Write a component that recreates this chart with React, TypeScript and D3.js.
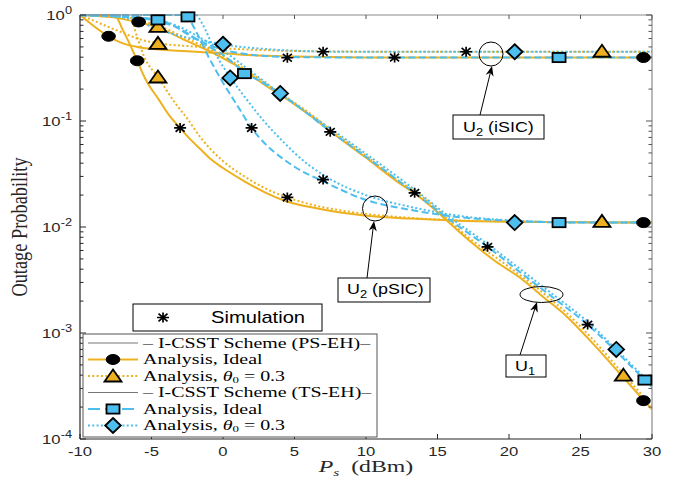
import React from 'react';
import * as d3 from 'd3';

type P = [number, number];

// ---------- data ----------
const xTicks = [-10, -5, 0, 5, 10, 15, 20, 25, 30];
const yDecades = [0, -1, -2, -3, -4];

// U2 (iSIC)
const psIsicIdeal: P[] = [[-10, 1], [-9, 0.78], [-8, 0.63], [-7, 0.54], [-6, 0.5], [-5, 0.48], [-2.5, 0.455], [0, 0.435], [2.5, 0.415], [5, 0.405], [10, 0.398], [20, 0.397], [30, 0.397]];
const psIsicTheta: P[] = [[-10, 1], [-9, 0.88], [-8, 0.77], [-7, 0.68], [-6, 0.6], [-4.5, 0.54], [-2.5, 0.51], [0, 0.485], [2.5, 0.468], [5, 0.457], [10, 0.451], [20, 0.45], [30, 0.45]];
const tsIsicIdeal: P[] = [[-10, 0.995], [-8, 0.975], [-6, 0.945], [-4.5, 0.9], [-3.5, 0.8], [-2.5, 0.66], [-1.5, 0.56], [0, 0.47], [1, 0.44], [2.5, 0.415], [4.5, 0.402], [8, 0.398], [30, 0.397]];
const tsIsicTheta: P[] = [[-10, 0.998], [-8, 0.98], [-6, 0.88], [-4.75, 0.75], [-3.5, 0.66], [-2.45, 0.61], [-1, 0.56], [0, 0.53], [1, 0.505], [2, 0.49], [3.5, 0.472], [5, 0.46], [7, 0.452], [10, 0.45], [30, 0.45]];

// U2 (pSIC)
const psPsicIdeal: P[] = [[-10, 1], [-7.6, 1], [-7, 0.72], [-6.4, 0.49], [-6, 0.37], [-5.4, 0.245], [-4.5, 0.16], [-3.8, 0.115], [-3, 0.086], [-2.5, 0.072], [-1.5, 0.053], [-0.8, 0.043], [0, 0.036], [1.5, 0.027], [3, 0.021], [4.7, 0.017], [6, 0.0155], [8.2, 0.0137], [10, 0.0128], [13.1, 0.012], [16, 0.0115], [20, 0.0112], [30, 0.011]];
const psPsicTheta: P[] = [[-10, 1], [-6.6, 1], [-6, 0.62], [-5.5, 0.4], [-4.55, 0.26], [-4, 0.2], [-3.3, 0.145], [-2.6, 0.11], [-1.5, 0.068], [-0.1, 0.043], [1.5, 0.03], [3, 0.023], [4.5, 0.019], [6, 0.0165], [8, 0.0145], [10, 0.0133], [13.1, 0.0122], [16, 0.0116], [20, 0.0113], [30, 0.011]];
const tsPsicIdeal: P[] = [[-10, 1], [-2.7, 1], [-2.45, 0.95], [-2, 0.75], [-1, 0.4], [0, 0.23], [1, 0.14], [2, 0.086], [3, 0.06], [4.3, 0.043], [5, 0.037], [7, 0.027], [10, 0.018], [13.1, 0.0145], [17, 0.0122], [20.4, 0.0114], [25, 0.011], [30, 0.011]];
const tsPsicTheta: P[] = [[-10, 1], [-1.9, 1], [-1.5, 0.85], [-1, 0.62], [-0.5, 0.43], [0.5, 0.26], [1.5, 0.17], [3, 0.095], [4.3, 0.062], [5, 0.05], [7, 0.031], [10, 0.02], [13.1, 0.0155], [17, 0.0125], [20.4, 0.0115], [25, 0.011], [30, 0.011]];

// U1
const psU1Ideal: P[] = [[-10, 0.995], [-8, 0.96], [-6, 0.86], [-4.5, 0.76], [-2.66, 0.58], [-1, 0.46], [0.5, 0.36], [1.5, 0.3], [2.9, 0.22], [4.5, 0.16], [6, 0.115], [7.5, 0.08], [10, 0.045], [12, 0.028], [14, 0.018], [17.1, 0.0077], [19, 0.0048], [20.8, 0.0033], [22.2, 0.0023], [24, 0.00145], [26, 0.00076], [28, 0.00038], [30, 0.00019]];
const psU1Theta: P[] = [[-10, 0.998], [-8, 0.975], [-6, 0.89], [-4.5, 0.79], [-2.66, 0.61], [-1, 0.48], [0.5, 0.375], [1.5, 0.31], [3, 0.225], [4.5, 0.165], [6, 0.12], [7.5, 0.083], [10, 0.047], [12, 0.029], [14, 0.019], [17, 0.0083], [20, 0.0042], [22.2, 0.0025], [24, 0.00156], [26, 0.00083], [28, 0.00041], [30, 0.000205]];
const tsU1Ideal: P[] = [[-10, 0.995], [-8, 0.98], [-6, 0.94], [-4.5, 0.87], [-3, 0.74], [-1.5, 0.55], [0, 0.42], [1.5, 0.29], [3, 0.22], [4.5, 0.163], [7.5, 0.08], [10, 0.046], [13.4, 0.021], [16, 0.0113], [18.5, 0.0065], [21, 0.00355], [23, 0.0022], [25.5, 0.0012], [27.5, 0.00067], [29.5, 0.00036], [30, 0.00031]];
const tsU1Theta: P[] = [[-10, 0.998], [-8, 0.985], [-6, 0.95], [-4.5, 0.89], [-3, 0.77], [-1.5, 0.6], [0, 0.46], [2, 0.29], [4, 0.182], [5.5, 0.13], [7.5, 0.085], [10, 0.049], [13.4, 0.0225], [16, 0.012], [18.5, 0.0069], [21, 0.0038], [23, 0.00235], [25.5, 0.00128], [27.5, 0.0007], [29.5, 0.00038], [30, 0.00033]];

// markers
const circlePts: P[] = [[-8, 0.63], [-6, 0.37], [-5.9, 0.86], [29.4, 0.397], [29.4, 0.011], [29.4, 0.00023]];
const trianglePts: P[] = [[-4.55, 0.78], [-4.55, 0.54], [-4.55, 0.26], [26.5, 0.455], [26.5, 0.0113], [28, 0.0004]];
const squarePts: P[] = [[-4.55, 0.9], [-2.45, 0.96], [1.5, 0.28], [23.5, 0.397], [23.5, 0.011], [29.5, 0.00036]];
const diamondPts: P[] = [[0, 0.53], [0.5, 0.255], [4, 0.182], [20.4, 0.45], [20.4, 0.011], [27.5, 0.0007]];
const simPts: P[] = [[-5.9, 0.86], [-3.0, 0.086], [2.0, 0.086], [4.5, 0.019], [7.0, 0.028], [7.5, 0.079], [13.4, 0.021], [18.5, 0.0065], [25.5, 0.0012], [4.5, 0.395], [7.0, 0.45], [12.0, 0.397], [17.0, 0.45]];

const legendLabels = ['– I-CSST Scheme (PS-EH)–', 'Analysis, Ideal', 'Analysis, ', '– I-CSST Scheme (TS-EH)–', 'Analysis, Ideal', 'Analysis, '];

// ---------- styles ----------
const ORANGE = '#EDB120';
const BLUE = '#4DBEEE';
const TXT = '#262626';
const SANS = 'Liberation Sans, Arial, sans-serif';
const SERIF = 'Liberation Serif, Times New Roman, serif';
const SX = 1.28;
const SXS = 1.33;

const X0 = 80, X1 = 652, Y0 = 15, Y1 = 439;
const x = d3.scaleLinear().domain([-10, 30]).range([X0, X1]);
const y = d3.scaleLog().domain([1e-4, 1]).range([Y1, Y0]);
const line = d3.line<P>().x(d => x(d[0])).y(d => y(d[1])).curve(d3.curveMonotoneX);

const DOT = '2,2.3';
const DASH = '7,3.5';

function Circle({ cx, cy }: { cx: number; cy: number }) {
  return <ellipse cx={cx} cy={cy} rx={6.8} ry={5} fill="#000" stroke="#000" strokeWidth={1} />;
}
function Tri({ cx, cy }: { cx: number; cy: number }) {
  return <polygon points={`${cx},${cy - 6.5} ${cx + 8.5},${cy + 5.5} ${cx - 8.5},${cy + 5.5}`} fill={ORANGE} stroke="#000" strokeWidth={1.8} />;
}
function Sq({ cx, cy }: { cx: number; cy: number }) {
  return <rect x={cx - 6.5} y={cy - 4.6} width={13} height={9.2} fill={BLUE} stroke="#000" strokeWidth={1.8} />;
}
function Dia({ cx, cy }: { cx: number; cy: number }) {
  return <polygon points={`${cx},${cy - 7.5} ${cx + 7.8},${cy} ${cx},${cy + 7.5} ${cx - 7.8},${cy}`} fill={BLUE} stroke="#000" strokeWidth={1.8} />;
}
function Star({ cx, cy }: { cx: number; cy: number }) {
  return <path d={`M${cx - 6},${cy}H${cx + 6}M${cx},${cy - 5}V${cy + 5}M${cx - 4.5},${cy - 3.8}L${cx + 4.5},${cy + 3.8}M${cx - 4.5},${cy + 3.8}L${cx + 4.5},${cy - 3.8}`} stroke="#000" strokeWidth={1.7} fill="none" />;
}

function Arrow({ x1, y1, x2, y2 }: { x1: number; y1: number; x2: number; y2: number }) {
  const ang = Math.atan2(y2 - y1, x2 - x1);
  const L = 10, Wd = 4, N = 7;
  const ux = Math.cos(ang), uy = Math.sin(ang);
  const px = -uy, py = ux;
  const bx = x2 - ux * L, by = y2 - uy * L;
  const nx = x2 - ux * N, ny = y2 - uy * N;
  const pts = `${x2},${y2} ${bx + px * Wd},${by + py * Wd} ${nx},${ny} ${bx - px * Wd},${by - py * Wd}`;
  return (
    <g>
      <line x1={x1} y1={y1} x2={nx} y2={ny} stroke="#000" strokeWidth={1} />
      <polygon points={pts} fill="#000" />
    </g>
  );
}

export default function App() {
  const minor: number[] = [];
  for (let e = -4; e < 0; e++) for (let k = 2; k <= 9; k++) minor.push(k * Math.pow(10, e));

  const curves: { d: P[]; c: string; dash?: string; w: number }[] = [
    { d: psIsicIdeal, c: ORANGE, w: 2 },
    { d: psPsicIdeal, c: ORANGE, w: 2 },
    { d: psU1Ideal, c: ORANGE, w: 2 },
    { d: psIsicTheta, c: ORANGE, dash: DOT, w: 2 },
    { d: psPsicTheta, c: ORANGE, dash: DOT, w: 2 },
    { d: psU1Theta, c: ORANGE, dash: DOT, w: 2 },
    { d: tsIsicIdeal, c: BLUE, dash: DASH, w: 2 },
    { d: tsPsicIdeal, c: BLUE, dash: DASH, w: 2 },
    { d: tsU1Ideal, c: BLUE, dash: DASH, w: 2 },
    { d: tsIsicTheta, c: BLUE, dash: DOT, w: 2 },
    { d: tsPsicTheta, c: BLUE, dash: DOT, w: 2 },
    { d: tsU1Theta, c: BLUE, dash: DOT, w: 2 },
  ];

  const legY = [343, 359.5, 376, 392.5, 409, 425.5];

  return (
    <svg width={675} height={477} style={{ display: 'block', position: 'absolute', left: 0, top: 0, background: '#fff' }}>
      <rect x={0} y={0} width={675} height={477} fill="#fff" />
      <defs>
        <clipPath id="plot">
          <rect x={X0} y={Y0 - 1.5} width={X1 - X0} height={Y1 - Y0 + 1.5} />
        </clipPath>
      </defs>

      <g clipPath="url(#plot)" fill="none">
        {curves.map((cv, i) => (
          <path key={i} d={line(cv.d) || ''} stroke={cv.c} strokeWidth={cv.w} strokeDasharray={cv.dash} />
        ))}
      </g>

      <line x1={X0} y1={Y0} x2={X1} y2={Y0} stroke="#8a8a8a" strokeWidth={1.2} />
      <line x1={X1} y1={Y0} x2={X1} y2={Y1} stroke="#8a8a8a" strokeWidth={1.2} />
      <line x1={X0} y1={Y0} x2={X0} y2={Y1} stroke="#262626" strokeWidth={1.2} />
      <line x1={X0} y1={Y1} x2={X1} y2={Y1} stroke="#262626" strokeWidth={1.2} />

      {xTicks.map(t => (
        <g key={'xt' + t}>
          <line x1={x(t)} x2={x(t)} y1={Y1} y2={Y1 - 5} stroke="#262626" />
          <line x1={x(t)} x2={x(t)} y1={Y0} y2={Y0 + 4} stroke="#555" />
          <text transform={`translate(${x(t)},456) scale(${SX},1)`} textAnchor="middle" fontSize={13} fontFamily={SANS} fill={TXT}>{String(t)}</text>
        </g>
      ))}
      {yDecades.map(e => (
        <g key={'yt' + e}>
          <line x1={X0} x2={X0 + 6} y1={y(Math.pow(10, e))} y2={y(Math.pow(10, e))} stroke="#262626" />
          <line x1={X1} x2={X1 - 6} y1={y(Math.pow(10, e))} y2={y(Math.pow(10, e))} stroke="#555" />
          <text transform={`translate(72,${y(Math.pow(10, e)) + 5}) scale(${SX},1)`} textAnchor="end" fontFamily={SANS} fill={TXT} fontSize={13}>
            10<tspan fontSize={10} dy={-6}>{String(e)}</tspan>
          </text>
        </g>
      ))}
      {minor.map((v, i) => (
        <g key={'mn' + i}>
          <line x1={X0} x2={X0 + 3.5} y1={y(v)} y2={y(v)} stroke="#262626" />
          <line x1={X1} x2={X1 - 3.5} y1={y(v)} y2={y(v)} stroke="#555" />
        </g>
      ))}

      {circlePts.map((p, i) => <Circle key={'c' + i} cx={x(p[0])} cy={y(p[1])} />)}
      {trianglePts.map((p, i) => <Tri key={'t' + i} cx={x(p[0])} cy={y(p[1])} />)}
      {squarePts.map((p, i) => <Sq key={'s' + i} cx={x(p[0])} cy={y(p[1])} />)}
      {diamondPts.map((p, i) => <Dia key={'d' + i} cx={x(p[0])} cy={y(p[1])} />)}
      {simPts.map((p, i) => <Star key={'a' + i} cx={x(p[0])} cy={y(p[1])} />)}

      <circle cx={491} cy={54} r={12} fill="none" stroke="#000" strokeWidth={1} />
      <Arrow x1={480} y1={115} x2={492} y2={66} />
      <rect x={453} y={115} width={91} height={24} fill="#fff" stroke="#000" strokeWidth={1} />
      <text transform={`translate(463,132) scale(${SX},1)`} fontFamily={SANS} fontSize={14} fill="#000">
        U<tspan fontSize={10} dy={4}>2</tspan><tspan dy={-4}> (iSIC)</tspan>
      </text>

      <circle cx={375} cy={208.5} r={12.5} fill="none" stroke="#000" strokeWidth={1} />
      <Arrow x1={367} y1={278} x2={374} y2={221} />
      <rect x={338} y={278} width={92} height={24} fill="#fff" stroke="#000" strokeWidth={1} />
      <text transform={`translate(347,294) scale(${SX},1)`} fontFamily={SANS} fontSize={14} fill="#000">
        U<tspan fontSize={10} dy={4}>2</tspan><tspan dy={-4}> (pSIC)</tspan>
      </text>

      <ellipse cx={541.5} cy={294.5} rx={21.5} ry={8} fill="none" stroke="#000" strokeWidth={1} />
      <Arrow x1={520} y1={355} x2={537} y2={302} />
      <rect x={506} y={355} width={40} height={22} fill="#fff" stroke="#000" strokeWidth={1} />
      <text transform={`translate(515,371) scale(${SX},1)`} fontFamily={SANS} fontSize={14} fill="#000">
        U<tspan fontSize={10} dy={4}>1</tspan>
      </text>

      <rect x={133} y={304} width={189} height={27} fill="#fff" stroke="#000" strokeWidth={1} />
      <Star cx={163} cy={317.5} />
      <text transform={`translate(211,323) scale(1.26,1)`} fontSize={16} fontFamily={SANS} fill="#000">Simulation</text>

      <rect x={83} y={334} width={294} height={103} fill="#fff" stroke="#555" strokeWidth={1} />
      {legY.map((ly, i) => {
        const lab = legendLabels[i];
        let sample: React.ReactNode = null;
        if (i === 0 || i === 3) sample = <line x1={88} x2={138} y1={ly} y2={ly} stroke="#777" strokeWidth={1.2} />;
        if (i === 1) sample = <g><line x1={88} x2={138} y1={ly} y2={ly} stroke={ORANGE} strokeWidth={2} /><Circle cx={113} cy={ly} /></g>;
        if (i === 2) sample = <g><line x1={88} x2={138} y1={ly} y2={ly} stroke={ORANGE} strokeWidth={2} strokeDasharray={DOT} /><Tri cx={113} cy={ly} /></g>;
        if (i === 4) sample = <g><line x1={88} x2={138} y1={ly} y2={ly} stroke={BLUE} strokeWidth={2} strokeDasharray="12,5" /><Sq cx={113} cy={ly} /></g>;
        if (i === 5) sample = <g><line x1={88} x2={138} y1={ly} y2={ly} stroke={BLUE} strokeWidth={2} strokeDasharray={DOT} /><Dia cx={113} cy={ly} /></g>;
        const isTheta = i === 2 || i === 5;
        return (
          <g key={'lg' + i}>
            {sample}
            <text transform={`translate(143,${ly + 4.5}) scale(1.425,1)`} fontFamily={SERIF} fontSize={14} fill="#000">
              {lab}
              {isTheta ? <tspan fontStyle="italic">θ</tspan> : null}
              {isTheta ? <tspan fontSize={9} dy={2}>0</tspan> : null}
              {isTheta ? <tspan dy={-2}>{'\u00A0= 0.3'}</tspan> : null}
            </text>
          </g>
        );
      })}

      <text transform={`translate(${(X0 + X1) / 2},472) scale(1.4,1)`} textAnchor="middle" fontFamily={SERIF} fontSize={17} fill={TXT}>
        <tspan fontStyle="italic">P</tspan><tspan fontStyle="italic" fontSize={11} dy={4}>s</tspan><tspan dy={-4}>{'\u00A0\u00A0(dBm)'}</tspan>
      </text>
      <text transform={`translate(27,${(Y0 + Y1) / 2}) rotate(-90) scale(1.02,${SXS})`} textAnchor="middle" fontFamily={SERIF} fontSize={18} fill={TXT}>
        Outage Probability
      </text>
    </svg>
  );
}
